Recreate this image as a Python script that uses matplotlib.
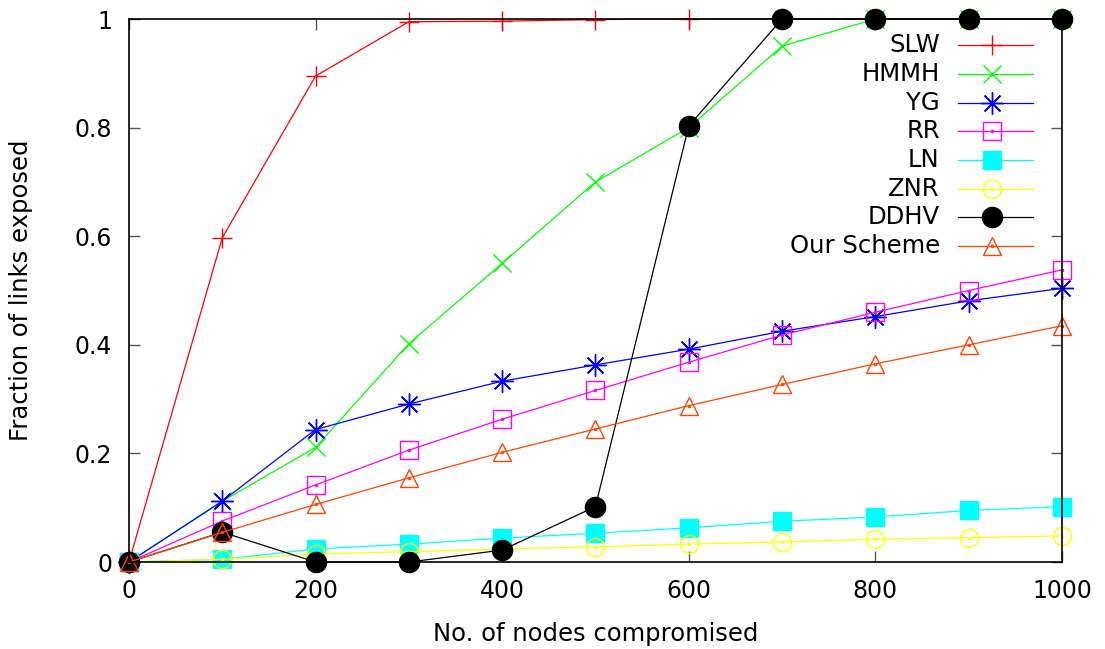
import numpy as np
import matplotlib
matplotlib.use("Agg")
import matplotlib.pyplot as plt

nodes = [0, 100, 200, 300, 400, 500, 600, 700, 800, 900, 1000]

slw = [0, 0.597, 0.895, 0.995, 0.996, 0.999, 1.0, 1.0, 1.0, 1.0, 1.0]
hmmh = [0, 0.112, 0.211, 0.402, 0.55, 0.70, 0.80, 0.95, 1.0, 1.0, 1.0]
yg = [0, 0.112, 0.244, 0.291, 0.333, 0.363, 0.392, 0.425, 0.452, 0.481, 0.504]
rr = [0, 0.0755, 0.142, 0.206, 0.263, 0.316, 0.368, 0.418, 0.460, 0.500, 0.538]
ln = [0, 0.005, 0.024, 0.033, 0.044, 0.053, 0.063, 0.075, 0.083, 0.095, 0.102]
znr = [0, 0.005, 0.015, 0.019, 0.024, 0.028, 0.033, 0.037, 0.042, 0.045, 0.048]
ddhv = [0, 0.055, 0, 0, 0.022, 0.102, 0.803, 1.0, 1.0, 1.0, 1.0]
ours = [0, 0.0546, 0.106, 0.155, 0.202, 0.245, 0.288, 0.327, 0.365, 0.400, 0.435]

labels = ["SLW", "HMMH", "YG", "RR", "LN", "ZNR", "DDHV", "Our Scheme"]
series = [slw, hmmh, yg, rr, ln, znr, ddhv, ours]
colors = ["#ff0000", "#00ff00", "#0000ff", "#ff00ff", "#00ffff", "#ffff00",
          "#000000", "#ff4500"]
# (marker, size, filled)
styles = [("+", 15, True), ("x", 13, True), ((8, 2, 0), 16, True),
          ("s", 13, False), ("s", 13.5, True), ("o", 13, False),
          ("o", 14.5, True), ("^", 13, False)]

plt.rcParams['font.family'] = ['DejaVu Sans']
fig = plt.figure(figsize=(11.05, 6.49), dpi=100)
ax = fig.add_axes([0.1167, 0.134, 0.8443, 0.8367])

for i, (y, lab, c, (m, ms, filled)) in enumerate(zip(series, labels, colors, styles)):
    mfc = c if filled else 'none'
    ax.plot(nodes, y, color=c, lw=0.9, marker=m, ms=ms, mew=1.0,
            mfc=mfc, mec=c, clip_on=False)
    if not filled:
        ax.plot(nodes, y, ls='none', marker='.', ms=3, color=c, clip_on=False)

    # gnuplot style key: right aligned text, then line sample with marker
    ly = 0.952 - i * 0.0529
    ax.text(0.869, ly, lab, transform=ax.transAxes, ha='right', va='center',
            fontsize=17.5)
    ax.plot([0.8885, 0.969], [ly, ly], color=c, lw=0.9,
            transform=ax.transAxes, clip_on=False)
    ax.plot([0.9255], [ly], marker=m, ms=ms, mew=1.0, mfc=mfc, mec=c,
            ls='none', transform=ax.transAxes, clip_on=False)
    if not filled:
        ax.plot([0.9255], [ly], marker='.', ms=3, color=c, ls='none',
                transform=ax.transAxes, clip_on=False)

ax.set_xlim(0, 1000)
ax.set_ylim(0, 1)
ax.set_xticks([0, 200, 400, 600, 800, 1000])
ax.set_yticks([0, 0.2, 0.4, 0.6, 0.8, 1.0])
ax.set_yticklabels(["0", "0.2", "0.4", "0.6", "0.8", "1"])
ax.tick_params(direction='in', length=8, width=1, labelsize=17,
               top=True, right=True, color='#555555', pad=12)
for s in ax.spines.values():
    s.set_linewidth(1.2)

ax.set_xlabel("No. of nodes compromised", fontsize=17.5, labelpad=14)
ax.set_ylabel("Fraction of links exposed", fontsize=17.5, labelpad=30)

fig.savefig("out.png", dpi=100)
